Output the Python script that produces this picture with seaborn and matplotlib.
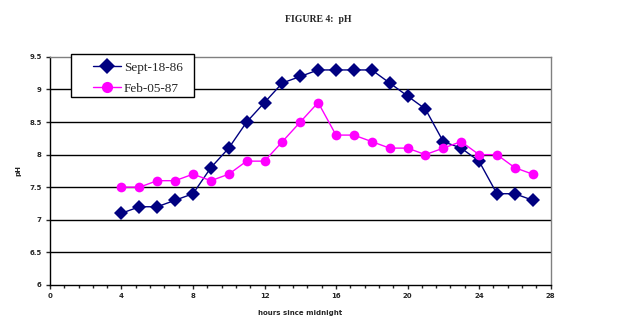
import pandas as pd
import seaborn as sns
import matplotlib
matplotlib.use("Agg")
import matplotlib.pyplot as plt
from matplotlib.patches import Rectangle
from matplotlib.ticker import MultipleLocator

# dados
horas = list(range(4, 28))
sept = [7.1, 7.2, 7.2, 7.3, 7.4, 7.8, 8.1, 8.5, 8.8, 9.1, 9.2, 9.3,
        9.3, 9.3, 9.3, 9.1, 8.9, 8.7, 8.2, 8.1, 7.9, 7.4, 7.4, 7.3]
feb = [7.5, 7.5, 7.6, 7.6, 7.7, 7.6, 7.7, 7.9, 7.9, 8.2, 8.5, 8.8,
       8.3, 8.3, 8.2, 8.1, 8.1, 8.0, 8.1, 8.2, 8.0, 8.0, 7.8, 7.7]

tabela = pd.DataFrame({"horas": horas * 2,
                       "pH": sept + feb,
                       "serie": ["Sept-18-86"] * len(horas) + ["Feb-05-87"] * len(horas)})

sns.set_style("white")
fig = plt.figure(figsize=(6.36, 3.29), dpi=100)
ax = fig.add_axes([0.0786, 0.134, 0.787, 0.693])

sns.lineplot(data=tabela, x="horas", y="pH", hue="serie", style="serie",
             palette={"Sept-18-86": "#000080", "Feb-05-87": "#FF00FF"},
             markers={"Sept-18-86": "D", "Feb-05-87": "o"},
             dashes=False, markersize=7, markeredgewidth=0, linewidth=1,
             ax=ax, legend=True)

ax.set_xlim(0, 28)
ax.set_ylim(6, 9.5)
ax.set_xticks(range(0, 29, 4))
ax.xaxis.set_minor_locator(MultipleLocator(0.8))
ax.set_yticks([6, 6.5, 7, 7.5, 8, 8.5, 9, 9.5])
ax.set_yticklabels(["6", "6.5", "7", "7.5", "8", "8.5", "9", "9.5"])
for y in [6.5, 7, 7.5, 8, 8.5, 9]:
    ax.axhline(y, color="black", linewidth=1, zorder=0)

ax.tick_params(axis="both", which="major", labelsize=5, length=3, width=1, direction="out",
               left=True, bottom=True, pad=3)
ax.tick_params(axis="x", which="minor", length=2, width=1, direction="out", bottom=True)
for lab in ax.get_xticklabels() + ax.get_yticklabels():
    lab.set_fontweight("bold")

for s in ["left", "bottom"]:
    ax.spines[s].set_color("black")
    ax.spines[s].set_linewidth(1)
for s in ["top", "right"]:
    ax.spines[s].set_color("#808080")
    ax.spines[s].set_linewidth(1)

ax.set_xlabel("hours since midnight", fontsize=5, fontweight="bold", labelpad=8)
ax.set_ylabel("pH", fontsize=5, fontweight="bold", labelpad=6)

fig.suptitle("FIGURE 4:  pH", x=0.5, y=0.955, fontsize=7, fontweight="bold",
             family="Liberation Serif")

# caixa da legenda (como no excel, mais larga que o conteudo)
caixa = Rectangle((0.1116, 0.7052), 0.1934, 0.1307, transform=fig.transFigure,
                  facecolor="white", edgecolor="black", linewidth=1,
                  clip_on=False, zorder=4)
ax.add_patch(caixa)

leg = ax.legend(loc="upper left", bbox_to_anchor=(0.146, 0.813),
                bbox_transform=fig.transFigure, frameon=False, borderaxespad=0,
                prop={"family": "Liberation Serif", "size": 9.5},
                handlelength=2.15, handletextpad=0.2, borderpad=0,
                labelspacing=0.65, markerscale=1.15)
leg.set_zorder(5)

fig.savefig("out.png", dpi=100)
